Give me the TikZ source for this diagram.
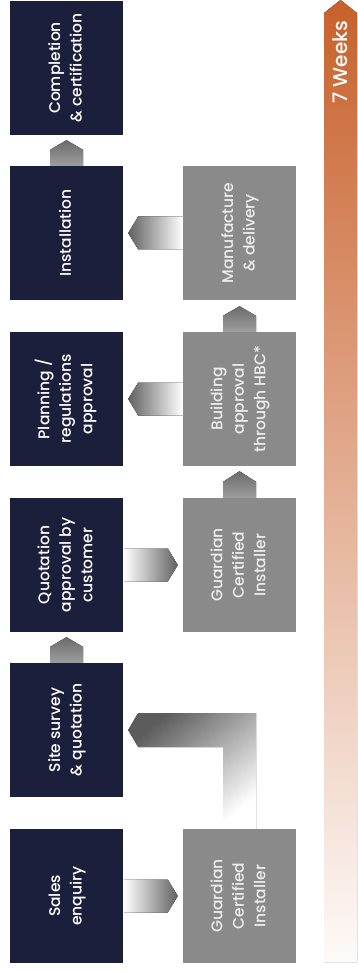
\documentclass[tikz,border=0pt]{standalone}
\usepackage{fontspec}
\setmainfont{Poppins Medium}
\usetikzlibrary{calc}

\definecolor{navy}{HTML}{1B1F3B}
\definecolor{stepgrey}{HTML}{8A8A8A}
\definecolor{weekorange}{HTML}{C8612B}
\definecolor{weekmid}{HTML}{E0A07A}

\newcommand{\vtext}[1]{\rotatebox{90}{\begin{tabular}{@{}c@{}}#1\end{tabular}}}

\tikzset{
	darkbox/.style={fill=navy, text=white, minimum width=113pt, minimum height=134pt, inner sep=0pt,
		font=\fontsize{15.5}{21.5}\selectfont},
	greybox/.style={darkbox, fill=stepgrey, text=white!93!black},
	uparrow/.style={top color=black!58, bottom color=black!38},
	leftarrow/.style={left color=black!62, right color=white},
	rightarrow/.style={left color=white, right color=black!62},
	elbowarrow/.style={top color=black!64, bottom color=white, shading angle=40},
	weekbar/.style={top color=weekorange, middle color=weekmid, bottom color=white!97!weekorange}
}

\begin{document}
\begin{tikzpicture}[x=1pt,y=1pt]
			\useasboundingbox (0,0) rectangle (357,-973);
			% left column
			\node[darkbox] (sales) at (66.5,-896) {\vtext{Sales\\enquiry}};
			\node[darkbox] (site) at (66.5,-730) {\vtext{Site survey\\\& quotation}};
			\node[darkbox] (quote) at (66.5,-565) {\vtext{Quotation\\approval by\\customer}};
			\node[darkbox] (plan) at (66.5,-399) {\vtext{Planning /\\regulations\\approval}};
			\node[darkbox] (inst) at (66.5,-233) {\vtext{Installation}};
			\node[darkbox] (compl) at (66.5,-68) {\vtext{Completion\\\& certification}};
			% right column
			\node[greybox] (gci) at (239.5,-896) {\vtext{Guardian\\Certified\\Installer}};
			\node[greybox] (gcib) at (239.5,-565) {\vtext{Guardian\\Certified\\Installer}};
			\node[greybox] (build) at (239.5,-399) {\vtext{Building\\approval\\through HBC*}};
			\node[greybox] (manu) at (239.5,-233) {\vtext{Manufacture\\\& delivery}};
			% up arrows
			\fill[uparrow] ($(inst.north)+(-16.5,0)$) -- ++(0,16) -- ($(compl.south)+(0,-5)$)
				-- ($(inst.north)+(16.5,16)$) -- ($(inst.north)+(16.5,0)$) -- cycle;
			\fill[uparrow] ($(site.north)+(-16.5,0)$) -- ++(0,16) -- ($(quote.south)+(0,-5)$)
				-- ($(site.north)+(16.5,16)$) -- ($(site.north)+(16.5,0)$) -- cycle;
			\fill[uparrow] ($(gcib.north)+(-16.5,0)$) -- ++(0,16) -- ($(build.south)+(0,-5)$)
				-- ($(gcib.north)+(16.5,16)$) -- ($(gcib.north)+(16.5,0)$) -- cycle;
			\fill[uparrow] ($(build.north)+(-16.5,0)$) -- ++(0,16) -- ($(manu.south)+(0,-6)$)
				-- ($(build.north)+(16.5,16)$) -- ($(build.north)+(16.5,0)$) -- cycle;
			% left arrows
			\fill[leftarrow] ($(manu.west)+(0,16.5)$) -- ($(inst.east)+(15,16.5)$) -- ($(inst.east)+(5,0)$)
				-- ($(inst.east)+(15,-16.5)$) -- ($(manu.west)+(0,-16.5)$) -- cycle;
			\fill[leftarrow] ($(build.west)+(0,16.5)$) -- ($(plan.east)+(15,16.5)$) -- ($(plan.east)+(5,0)$)
				-- ($(plan.east)+(15,-16.5)$) -- ($(build.west)+(0,-16.5)$) -- cycle;
			% right arrows
			\fill[rightarrow] ($(sales.east)+(1,16.5)$) -- ($(gci.west)+(-15,16.5)$) -- ($(gci.west)+(-5,0)$)
				-- ($(gci.west)+(-15,-16.5)$) -- ($(sales.east)+(1,-16.5)$) -- cycle;
			\fill[rightarrow] ($(quote.east)+(1,16.5)$) -- ($(gcib.west)+(-15,16.5)$) -- ($(gcib.west)+(-5,0)$)
				-- ($(gcib.west)+(-15,-16.5)$) -- ($(quote.east)+(1,-16.5)$) -- cycle;
			% elbow
			\fill[elbowarrow] ($(gci.north)+(-16.5,0)$) |- ($(site.east)+(15,-17)$) -- ($(site.east)+(5,0)$)
				-- ($(site.east)+(15,17)$) -| ($(gci.north)+(16.5,0)$) -- cycle;
			% timeline
			\fill[weekbar] (324,-962) -- (324,-13) -- (340.5,0) -- (357,-13) -- (357,-962) -- cycle;
			\node[text=white, rotate=90, font=\fontsize{20}{24}\selectfont] (weeks) at (340.5,-62) {7 Weeks};
		\end{tikzpicture}
\end{document}
